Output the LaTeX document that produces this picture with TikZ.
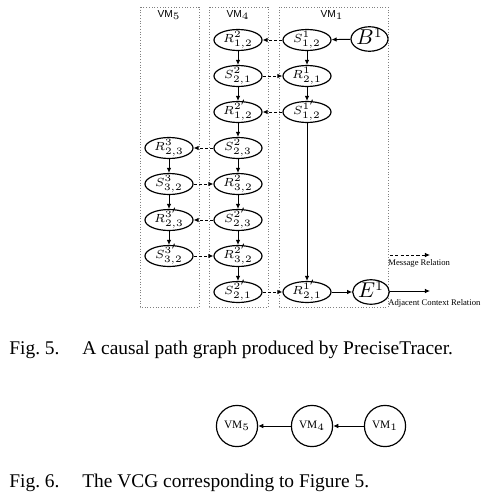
\documentclass[tikz,border=0pt]{standalone}
\usepackage{amssymb, amsmath}
\usepackage{fontspec}
\setmainfont{Liberation Serif}
\setsansfont{Liberation Sans}
\usepackage{tikz}
\usetikzlibrary{shapes,arrows,arrows.meta,calc}

\tikzset{
  ev/.style={ellipse,draw,line width=0.6pt,minimum width=24.5pt,minimum height=10.7pt,
    inner sep=0pt,text height=3.5pt,text depth=0.8pt,font=\fontsize{6.1}{7}\selectfont},
  be/.style={ellipse,draw,line width=0.6pt,minimum width=17pt,minimum height=12.5pt,
    inner sep=0pt,text height=6pt,text depth=0pt,font=\fontsize{10.5}{11}\selectfont},
  vmbox/.style={draw=gray,densely dotted,line width=0.4pt},
  vmname/.style={font=\sffamily\fontsize{5.2}{6}\selectfont},
  msg/.style={dash pattern=on 1.6pt off 1.1pt,line width=0.5pt,-{Latex[length=2.6pt,width=2.4pt]}},
  ctx/.style={line width=0.5pt,-{Latex[length=2.6pt,width=2.4pt]}},
  vcg/.style={circle,draw,line width=0.6pt,minimum size=21pt,inner sep=0pt,
    font=\fontsize{5.8}{6}\selectfont},
  legend/.style={font=\fontsize{4.4}{5}\selectfont,inner sep=0pt,anchor=west},
  capt/.style={font=\fontsize{9.9}{11}\selectfont,inner sep=0pt,anchor=west}
}

\begin{document}
\begin{tikzpicture}[x=0.51pt,y=-0.51pt]
\useasboundingbox (0,0) rectangle (486,497);

% the three VMs
\draw[vmbox] (140,7) rectangle (199,307);
\draw[vmbox] (209,7) rectangle (268,307);
\draw[vmbox] (279,7) rectangle (388,307);
\node[vmname] (n5) at (169,15) {VM$_5$};
\node[vmname] (n4) at (238,15) {VM$_4$};
\node[vmname] (n1) at (332,15) {VM$_1$};

% VM1
\node[ev] (m1a) at (307,40) {$S^{1}_{1,2}$};
\node[ev] (m1b) at (307,76) {$R^{1}_{2,1}$};
\node[ev] (m1c) at (307,112) {$S^{1'}_{1,2}$};
\node[ev] (m1h) at (307,292) {$R^{1'}_{2,1}$};
\node[be] (B) at (369.5,39) {$B^1$};
\node[be] (E) at (371,292) {$E^1$};

% VM4
\node[ev] (m4a) at (238,40) {$R^{2}_{1,2}$};
\node[ev] (m4b) at (238,76) {$S^{2}_{2,1}$};
\node[ev] (m4c) at (238,112) {$R^{2'}_{1,2}$};
\node[ev] (m4d) at (238,148) {$S^{2}_{2,3}$};
\node[ev] (m4e) at (238,184) {$R^{2}_{3,2}$};
\node[ev] (m4f) at (238,220) {$S^{2'}_{2,3}$};
\node[ev] (m4g) at (238,256) {$R^{2'}_{3,2}$};
\node[ev] (m4h) at (238,292) {$S^{2'}_{2,1}$};

% VM5
\node[ev] (m5d) at (169,148) {$R^{3}_{2,3}$};
\node[ev] (m5e) at (169,184) {$S^{3}_{3,2}$};
\node[ev] (m5f) at (169,220) {$R^{3'}_{2,3}$};
\node[ev] (m5g) at (169,256) {$S^{3'}_{3,2}$};

% adjacent context
\draw[ctx] (B) -- (m1a);
\draw[ctx] (m1a) -- (m1b);
\draw[ctx] (m1b) -- (m1c);
\draw[ctx] (m1c) -- (m1h);
\draw[ctx] (m1h) -- (E);
\foreach \i/\j in {a/b,b/c,c/d,d/e,e/f,f/g,g/h}
  \draw[ctx] (m4\i) -- (m4\j);
\foreach \i/\j in {d/e,e/f,f/g}
  \draw[ctx] (m5\i) -- (m5\j);

% messages
\draw[msg] (m1a) -- (m4a);
\draw[msg] (m4b) -- (m1b);
\draw[msg] (m1c) -- (m4c);
\draw[msg] (m4d) -- (m5d);
\draw[msg] (m5e) -- (m4e);
\draw[msg] (m4f) -- (m5f);
\draw[msg] (m5g) -- (m4g);
\draw[msg] (m4h) -- (m1h);

% legend
\coordinate (l1) at (390,255);
\coordinate (l2) at (430,255);
\coordinate (l3) at (390,291);
\coordinate (l4) at (430,291);
\draw[msg] (l1) -- (l2);
\draw[ctx] (l3) -- (l4);
\node[legend] (t1) at (388,263) {Message Relation};
\node[legend] (t2) at (388,303) {Adjacent Context Relation};

\node[capt] (c5) at (9,350) {\makebox[37.2pt][l]{Fig.~5.}A causal path graph produced by PreciseTracer.};

% VCG
\node[vcg] (v5) at (237,426) {VM$_5$};
\node[vcg] (v4) at (312,426) {VM$_4$};
\node[vcg] (v1) at (385,426) {VM$_1$};
\draw[ctx] (v4) -- (v5);
\draw[ctx] (v1) -- (v4);

\node[capt] (c6) at (9,483) {\makebox[37.2pt][l]{Fig.~6.}The VCG corresponding to Figure 5.};
\end{tikzpicture}
\end{document}
